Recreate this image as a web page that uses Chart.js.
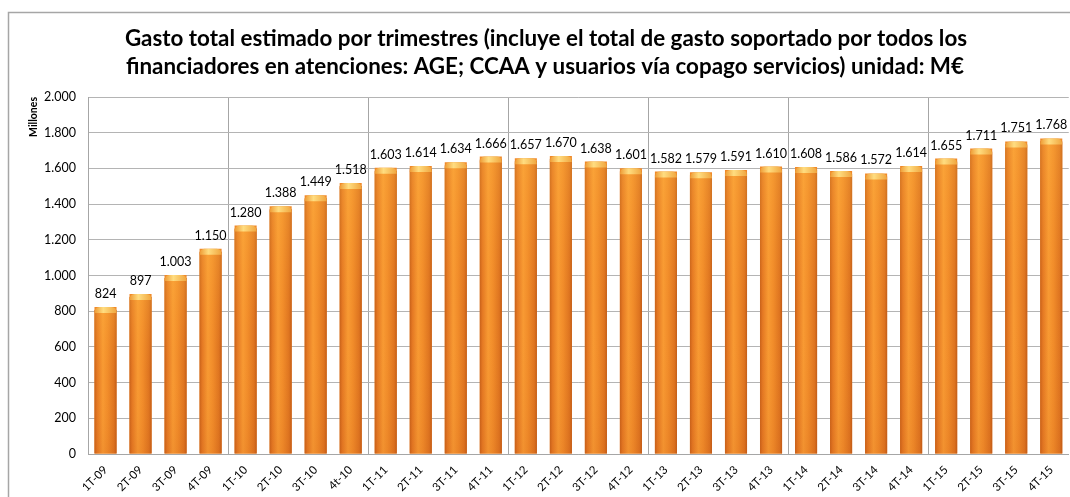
<!DOCTYPE html>
<html>
<head>
<meta charset="utf-8">
<script src="https://cdn.jsdelivr.net/npm/chart.js@4/dist/chart.umd.min.js"></script>
<style>
html,body{margin:0;padding:0;background:#fff;}
#wrap{position:relative;width:1070px;height:497px;}
</style>
</head>
<body>
<div id="wrap"><canvas id="c" width="1070" height="497"></canvas></div>
<script>
const categories = ["1T-09","2T-09","3T-09","4T-09","1T-10","2T-10","3T-10","4t-10",
  "1T-11","2T-11","3T-11","4T-11","1T-12","2T-12","3T-12","4T-12",
  "1T-13","2T-13","3T-13","4T-13","1T-14","2T-14","3T-14","4T-14",
  "1T-15","2T-15","3T-15","4T-15"];
const gasto = [824,897,1003,1150,1280,1388,1449,1518,
  1603,1614,1634,1666,1657,1670,1638,1601,
  1582,1579,1591,1610,1608,1586,1572,1614,
  1655,1711,1751,1768];
const titleLines = ["Gasto total estimado por trimestres (incluye el total de gasto soportado por todos los",
  "financiadores en atenciones: AGE; CCAA y usuarios vía copago servicios) unidad: M€"];
const yTitle = "Millones";
const yMin = 0, yMax = 2000, yStep = 200;

function fmt(v){ return String(Math.round(v)).replace(/\B(?=(\d{3})+(?!\d))/g, "."); }

const FONT = "Lato, 'Open Sans', sans-serif";

const framePlugin = {
  id: 'frame',
  beforeDraw(chart){
    const ctx = chart.ctx;
    ctx.save();
    ctx.fillStyle = '#fff';
    ctx.fillRect(0,0,chart.width,chart.height);
    ctx.strokeStyle = '#A6A6A6';
    ctx.lineWidth = 1.5;
    ctx.beginPath();
    ctx.moveTo(8.5, chart.height);
    ctx.lineTo(8.5, 12.5);
    ctx.lineTo(chart.width, 12.5);
    ctx.stroke();
    // title
    ctx.fillStyle = '#000';
    ctx.font = "bold 22.4px " + FONT;
    ctx.textAlign = 'center';
    ctx.textBaseline = 'alphabetic';
    ctx.fillText(titleLines[0], 546, 46);
    ctx.fillText(titleLines[1], 545, 74);
    ctx.restore();
  }
};

const barStylePlugin = {
  id: 'barStyle',
  afterDatasetsDraw(chart){
    const ctx = chart.ctx;
    const meta = chart.getDatasetMeta(0);
    ctx.save();
    meta.data.forEach((bar, i) => {
      const w = bar.width, x0 = bar.x - w/2, x1 = bar.x + w/2;
      const top = bar.y, base = bar.base;
      const g = ctx.createLinearGradient(x0, 0, x1, 0);
      g.addColorStop(0, '#C8611A');
      g.addColorStop(0.12, '#E47823');
      g.addColorStop(0.38, '#F89A33');
      g.addColorStop(0.6, '#F18C2A');
      g.addColorStop(0.88, '#DE7420');
      g.addColorStop(1, '#C25C18');
      ctx.fillStyle = g;
      ctx.fillRect(x0, top + 3, w, base - top - 3);
      // vertical shade
      const vg = ctx.createLinearGradient(0, top, 0, base);
      vg.addColorStop(0, 'rgba(255,190,70,0.25)');
      vg.addColorStop(0.5, 'rgba(255,160,40,0)');
      vg.addColorStop(1, 'rgba(190,80,20,0.12)');
      ctx.fillStyle = vg;
      ctx.fillRect(x0, top + 3, w, base - top - 3);
      // top cap
      const cg = ctx.createLinearGradient(x0, 0, x1, 0);
      cg.addColorStop(0, '#EE9A34');
      cg.addColorStop(0.4, '#FFDD80');
      cg.addColorStop(1, '#F0A53E');
      ctx.fillStyle = cg;
      ctx.beginPath();
      ctx.moveTo(x0, top + 6);
      ctx.quadraticCurveTo(x0, top, x0 + 5, top);
      ctx.lineTo(x1 - 5, top);
      ctx.quadraticCurveTo(x1, top, x1, top + 6);
      ctx.closePath();
      ctx.fill();
      // label
      ctx.fillStyle = '#000';
      ctx.font = "12.5px " + FONT;
      ctx.textAlign = 'center';
      ctx.textBaseline = 'alphabetic';
      ctx.fillText(fmt(gasto[i]), bar.x, top - 9);
    });
    ctx.restore();
  }
};

new Chart(document.getElementById('c'), {
  type: 'bar',
  data: {
    labels: categories,
    datasets: [{
      data: gasto,
      backgroundColor: '#F0892A',
      borderWidth: 0,
      barPercentage: 0.63,
      categoryPercentage: 1.0
    }]
  },
  options: {
    responsive: false,
    animation: false,
    events: [],
    layout: { padding: { top: 97, left: 0, right: 0, bottom: 0 } },
    plugins: { legend: { display: false }, title: { display: false }, tooltip: { enabled: false } },
    scales: {
      x: {
        offset: true,
        grid: {
          offset: true,
          drawTicks: false,
          color: (c) => (c.index % 4 === 0 ? '#A6A6A6' : 'rgba(0,0,0,0)'),
          lineWidth: 1
        },
        border: { color: '#A6A6A6', width: 1 },
        ticks: {
          autoSkip: false, minRotation: 45, maxRotation: 45, padding: 9,
          color: '#000', font: { family: FONT, size: 11.5 }
        },
        afterFit(scale){ scale.height = 43; }
      },
      y: {
        min: yMin, max: yMax,
        grid: { color: '#B4B4B4', drawTicks: false, lineWidth: 1 },
        border: { color: '#A6A6A6', width: 1 },
        ticks: {
          stepSize: yStep, padding: 12, color: '#000',
          font: { family: FONT, size: 12.5 },
          callback: (v) => fmt(v)
        },
        title: {
          display: true, text: yTitle, align: 'end', color: '#000',
          font: { family: FONT, size: 10.5, weight: 'bold' },
          padding: { top: 27, bottom: 0 }
        },
        afterFit(scale){ scale.width = 88; }
      }
    }
  },
  plugins: [framePlugin, barStylePlugin]
});
</script>
</body>
</html>
